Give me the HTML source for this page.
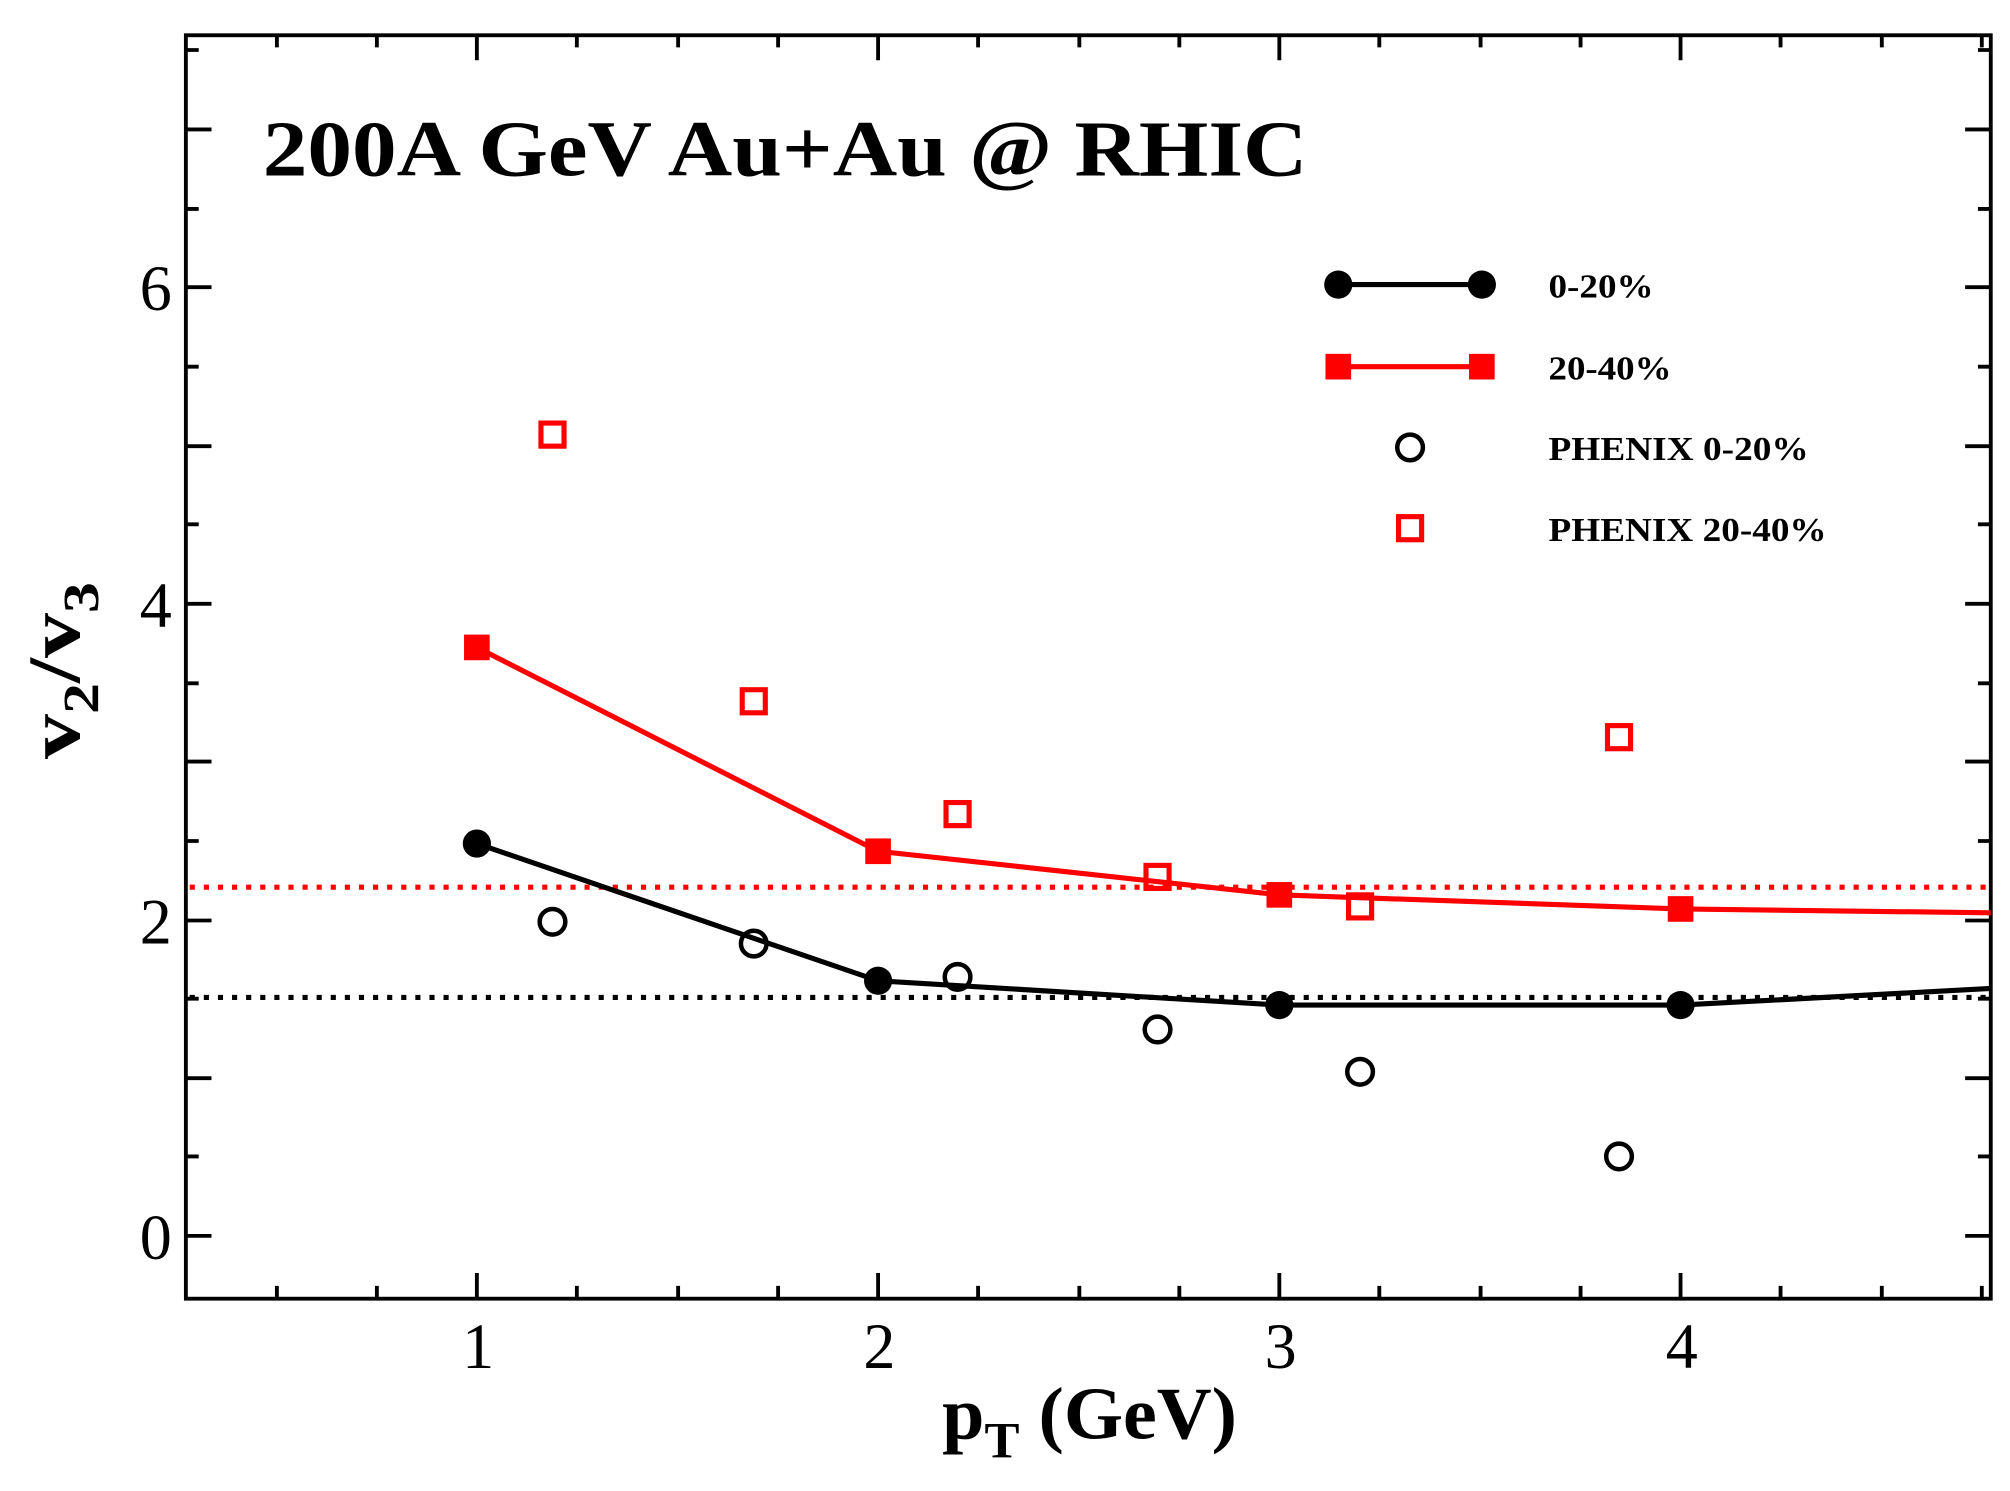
<!DOCTYPE html>
<html><head><meta charset="utf-8"><style>html,body{margin:0;padding:0;background:#fff}svg{display:block}</style></head>
<body>
<svg width="2010" height="1491" viewBox="0 0 1568 1163" preserveAspectRatio="none" xmlns="http://www.w3.org/2000/svg" font-family="'Liberation Serif', serif">
<rect width="1568" height="1163" fill="#fff"/>
<g stroke="#000" stroke-width="3" fill="none">
<rect x="145" y="27.5" width="1408" height="985.5"/>
<path d="M216 1013v-10M294 1013v-10M372 1013v-20M450 1013v-10M529 1013v-10M607 1013v-10M685 1013v-20M763 1013v-10M842 1013v-10M920 1013v-10M998 1013v-20M1076 1013v-10M1155 1013v-10M1233 1013v-10M1311 1013v-20M1389 1013v-10M1468 1013v-10M1546 1013v-10"/>
<path d="M216 27v10M294 27v10M372 27v20M450 27v10M529 27v10M607 27v10M685 27v20M763 27v10M842 27v10M920 27v10M998 27v20M1076 27v10M1155 27v10M1233 27v10M1311 27v20M1389 27v10M1468 27v10M1546 27v10"/>
<path d="M145 964h20M145 902h10M145 841h20M145 779h10M145 718h20M145 656h10M145 594h20M145 533h10M145 471h20M145 409h10M145 348h20M145 286h10M145 224h20M145 163h10M145 101h20M145 39h10"/>
<path d="M1553 964h-20M1553 902h-10M1553 841h-20M1553 779h-10M1553 718h-20M1553 656h-10M1553 594h-20M1553 533h-10M1553 471h-20M1553 409h-10M1553 348h-20M1553 286h-10M1553 224h-20M1553 163h-10M1553 101h-20M1553 39h-10"/>
</g>
<g font-size="50" text-anchor="middle" fill="#000">
<text x="373" y="1067">1</text><text x="686" y="1067">2</text><text x="999" y="1067">3</text><text x="1312" y="1067">4</text>
</g>
<g font-size="50" text-anchor="end" fill="#000">
<text x="134" y="982">0</text><text x="134" y="736">2</text><text x="134" y="489">4</text><text x="134" y="242">6</text>
</g>
<text x="205" y="137" font-size="62" font-weight="bold" textLength="815" lengthAdjust="spacingAndGlyphs">200A GeV Au+Au @ RHIC</text>
<text x="735" y="1122" font-size="58" font-weight="bold" textLength="230" lengthAdjust="spacingAndGlyphs">p<tspan font-size="40" dy="15">T</tspan><tspan dy="-15"> (GeV)</tspan></text>
<text transform="translate(62,592) rotate(-90)" font-size="58" font-weight="bold" textLength="138" lengthAdjust="spacingAndGlyphs">v<tspan font-size="40" dy="15">2</tspan><tspan dy="-15">/v</tspan><tspan font-size="40" dy="15">3</tspan></text>
<line x1="148" y1="692" x2="1553" y2="692" stroke="#f00" stroke-width="4" stroke-dasharray="4 7"/>
<line x1="148" y1="778" x2="1553" y2="778" stroke="#000" stroke-width="4" stroke-dasharray="4 7"/>
<polyline points="372,658 685,765 998,784 1311,784 1553,771" fill="none" stroke="#000" stroke-width="4"/>
<polyline points="372,505 685,664 998,698 1311,709 1553,712" fill="none" stroke="#f00" stroke-width="4"/>
<g fill="#000"><circle cx="372" cy="658" r="11"/><circle cx="685" cy="765" r="11"/><circle cx="998" cy="784" r="11"/><circle cx="1311" cy="784" r="11"/></g>
<g fill="#f00"><rect x="362" y="495" width="20" height="20"/><rect x="675" y="654" width="20" height="20"/><rect x="988" y="688" width="20" height="20"/><rect x="1301" y="699" width="20" height="20"/></g>
<g fill="none" stroke="#000" stroke-width="3.5"><circle cx="431" cy="719" r="10"/><circle cx="588" cy="736" r="10"/><circle cx="747" cy="762" r="10"/><circle cx="903" cy="803" r="10"/><circle cx="1061" cy="836" r="10"/><circle cx="1263" cy="902" r="10"/></g>
<g fill="none" stroke="#f00" stroke-width="4"><rect x="422" y="330" width="18" height="18"/><rect x="579" y="538" width="18" height="18"/><rect x="738" y="626" width="18" height="18"/><rect x="894" y="675" width="18" height="18"/><rect x="1052" y="698" width="18" height="18"/><rect x="1254" y="566" width="18" height="18"/></g>
<line x1="1044" y1="222" x2="1156" y2="222" stroke="#000" stroke-width="4"/>
<circle cx="1044" cy="222" r="11" fill="#000"/><circle cx="1156" cy="222" r="11" fill="#000"/>
<line x1="1044" y1="286" x2="1156" y2="286" stroke="#f00" stroke-width="4"/>
<rect x="1034" y="276" width="20" height="20" fill="#f00"/><rect x="1146" y="276" width="20" height="20" fill="#f00"/>
<circle cx="1100" cy="349" r="10" fill="none" stroke="#000" stroke-width="3.5"/>
<rect x="1091" y="403" width="18" height="18" fill="none" stroke="#f00" stroke-width="4"/>
<g font-size="26" font-weight="bold" fill="#000">
<text x="1208" y="232" textLength="82" lengthAdjust="spacingAndGlyphs">0-20%</text>
<text x="1208" y="296" textLength="96" lengthAdjust="spacingAndGlyphs">20-40%</text>
<text x="1208" y="359" textLength="203" lengthAdjust="spacingAndGlyphs">PHENIX 0-20%</text>
<text x="1208" y="422" textLength="217" lengthAdjust="spacingAndGlyphs">PHENIX 20-40%</text>
</g>
</svg>
</body></html>
